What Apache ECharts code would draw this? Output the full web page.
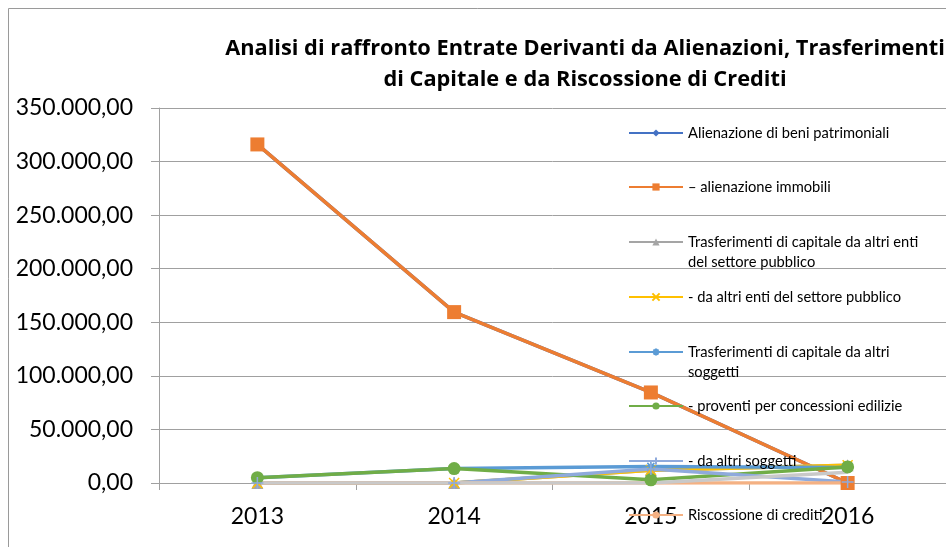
<!DOCTYPE html>
<html>
<head>
<meta charset="utf-8">
<script src="https://cdn.jsdelivr.net/npm/echarts@6/dist/echarts.min.js"></script>
<style>html,body{margin:0;padding:0;background:#fff}#c{width:946px;height:547px}</style>
</head>
<body>
<div id="c"></div>
<script>
var years = ['2013', '2014', '2015', '2016'];
var yTicks = [0, 50000, 100000, 150000, 200000, 250000, 300000, 350000];
var seriesNames = [
  'Alienazione di beni patrimoniali',
  '– alienazione immobili',
  'Trasferimenti di capitale da altri enti del settore pubblico',
  '- da altri enti del settore pubblico',
  'Trasferimenti di capitale da altri soggetti',
  '- proventi per concessioni edilizie',
  '- da altri soggetti',
  'Riscossione di crediti',
  'Altre'
];
var alienazioneBeni = [316000, 159500, 84500, 0];
var alienazioneImmobili = [316000, 159500, 84500, 0];
var trasfEntiPubblici = [0, 0, 12000, 16500];
var daEntiPubblici = [0, 0, 12000, 16500];
var trasfAltriSoggetti = [5000, 13500, 15500, 14500];
var proventiConcessioni = [5000, 13500, 3000, 15000];
var daAltriSoggetti = [0, 0, 13000, 1000];
var riscossioneCrediti = [0, 0, 0, 0];
var altre = [0, 0, 0, 10000];

var FONT = 'Lato';
function itFmt(v) {
  var s = Math.round(v).toString().replace(/\B(?=(\d{3})+(?!\d))/g, '.');
  return s + ',00';
}
var X = 'path://M0,0L10,10M10,0L0,10';
var AST = 'path://M5,0L5,10M0,5L10,5M1.5,1.5L8.5,8.5M8.5,1.5L1.5,8.5';
var PLUS = 'path://M5,0L5,10M0,5L10,5';

var defs = [
  {data: alienazioneBeni, color: '#4472C4', symbol: 'diamond', size: 9},
  {data: alienazioneImmobili, color: '#ED7D31', symbol: 'rect', size: 14},
  {data: trasfEntiPubblici, color: '#A5A5A5', symbol: 'triangle', size: 12},
  {data: daEntiPubblici, color: '#FFC000', symbol: X, size: 10, stroke: true},
  {data: trasfAltriSoggetti, color: '#5B9BD5', symbol: AST, size: 10, stroke: true},
  {data: proventiConcessioni, color: '#70AD47', symbol: 'circle', size: 13},
  {data: daAltriSoggetti, color: '#8FAADC', symbol: PLUS, size: 12, stroke: true},
  {data: riscossioneCrediti, color: '#F4B183', symbol: 'none', size: 0},
  {data: altre, color: '#C9C9C9', symbol: 'none', size: 0}
];

var series = defs.map(function (d, i) {
  return {
    name: seriesNames[i],
    type: 'line',
    data: d.data,
    symbol: d.symbol,
    symbolSize: d.size,
    showSymbol: d.symbol !== 'none',
    lineStyle: {color: d.color, width: 3.5},
    itemStyle: d.stroke ? {color: 'rgba(0,0,0,0)', borderColor: d.color, borderWidth: 1.5} : {color: d.color},
    emphasis: {disabled: true},
    animation: false
  };
});

var legendCenters = [133, 187, 242, 297, 352, 406, 461, 515];
var legendLabels = [
  'Alienazione di beni patrimoniali',
  '– alienazione immobili',
  '\nTrasferimenti di capitale da altri enti\ndel settore pubblico',
  '- da altri enti del settore pubblico',
  '\nTrasferimenti di capitale da altri\nsoggetti',
  '- proventi per concessioni edilizie',
  '- da altri soggetti',
  'Riscossione di crediti'
];
var legends = legendCenters.map(function (c, i) {
  var multi = legendLabels[i].indexOf('\n') === 0;
  return {
    data: [seriesNames[i]],
    left: 628,
    top: c - (multi ? 30 : 10),
    padding: 0,
    itemWidth: 54,
    itemHeight: 9,
    formatter: function () { return legendLabels[i]; },
    textStyle: {fontFamily: FONT, fontSize: 14.7, color: '#000', lineHeight: 20},
    selectedMode: false
  };
});

var chart = echarts.init(document.getElementById('c'), null, {renderer: 'canvas'});
chart.setOption({
  animation: false,
  backgroundColor: '#fff',
  title: {
    text: 'Analisi di raffronto Entrate Derivanti da Alienazioni, Trasferimenti\ndi Capitale e da Riscossione di Crediti',
    left: 580,
    top: 28,
    textAlign: 'center',
    textStyle: {fontFamily: 'Open Sans', fontSize: 21.8, fontWeight: 'bold', color: '#000', lineHeight: 31}
  },
  graphic: [{
    type: 'rect', shape: {x: 8.5, y: 8.5, width: 1000, height: 600},
    style: {fill: 'none', stroke: '#9a9a9a', lineWidth: 1}, silent: true, z: -1
  }],
  legend: legends,
  grid: {left: 159, top: 108, width: 790, bottom: 64},
  xAxis: {
    type: 'category',
    data: years,
    boundaryGap: true,
    axisLine: {lineStyle: {color: '#a0a0a0', width: 1}},
    axisTick: {show: true, length: 7, lineStyle: {color: '#a0a0a0'}},
    axisLabel: {fontFamily: FONT, fontSize: 23, color: '#000', margin: 22}
  },
  yAxis: {
    type: 'value',
    min: yTicks[0],
    max: yTicks[yTicks.length - 1],
    interval: yTicks[1] - yTicks[0],
    axisLine: {show: true, lineStyle: {color: '#a0a0a0', width: 1}},
    axisTick: {show: true, length: 8, lineStyle: {color: '#a0a0a0'}},
    splitLine: {lineStyle: {color: '#a0a0a0', width: 1}},
    axisLabel: {fontFamily: FONT, fontSize: 23, color: '#000', margin: 26, formatter: itFmt}
  },
  series: series
});
</script>
</body>
</html>
